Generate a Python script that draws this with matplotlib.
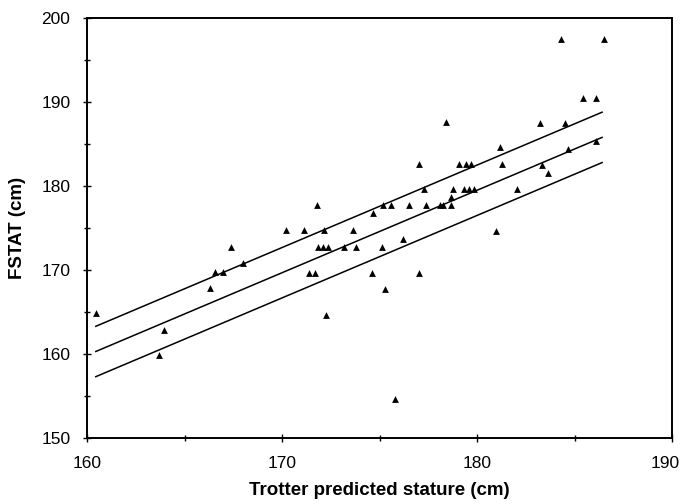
import numpy as np
import matplotlib
matplotlib.use('Agg')
import matplotlib.pyplot as plt
from matplotlib.ticker import MultipleLocator
from matplotlib.transforms import ScaledTranslation

plt.rcParams['font.family'] = ['Liberation Sans', 'DejaVu Sans']

# Datos: estatura Trotter (x) vs FSTAT (y)
trotter = [160.45, 163.96, 163.69, 166.31, 166.58, 166.99, 168.0, 167.37,
           170.22, 171.11, 171.37, 171.66, 171.81, 171.86, 172.12, 172.17,
           172.27, 172.37, 173.19, 173.61, 173.81, 174.63, 174.65, 175.14,
           175.19, 175.27, 175.6, 175.76, 176.19, 176.5, 176.99, 177.01,
           177.25, 177.38, 178.1, 178.27, 178.41, 178.65, 178.67, 178.78,
           179.04, 179.33, 179.42, 179.57, 179.69, 179.85, 180.97, 181.16,
           181.28, 182.05, 183.22, 183.33, 183.64, 184.29, 184.5, 184.67,
           185.42, 186.1, 186.1, 186.5]
fstat = [164.9, 162.9, 159.9, 167.9, 169.8, 169.8, 170.8, 172.8,
         174.8, 174.8, 169.7, 169.7, 177.8, 172.8, 172.8, 174.8,
         164.7, 172.8, 172.8, 174.8, 172.8, 169.7, 176.8, 172.7,
         177.7, 167.7, 177.7, 154.6, 173.7, 177.7, 169.6, 182.6,
         179.6, 177.7, 177.7, 177.7, 187.6, 178.7, 177.7, 179.6,
         182.6, 179.6, 182.6, 179.6, 182.6, 179.6, 174.7, 184.6,
         182.6, 179.6, 187.5, 182.5, 181.5, 197.5, 187.5, 184.4,
         190.5, 190.5, 185.4, 197.5]

# Recta de regresión (extremos) y banda de +/- 3 cm
fit_x = [160.45, 186.4]
fit_y = [160.3, 185.8]
band = 3.0

x_ticks = [160, 170, 180, 190]
y_ticks = [150, 160, 170, 180, 190, 200]

fig = plt.figure(figsize=(6.83, 5.04), dpi=100)
ax = fig.add_axes([0.1274, 0.131, 0.857, 0.833])

ax.scatter(trotter, fstat, marker='^', s=24, color='black', linewidths=0, zorder=3)

fy = np.array(fit_y)
ax.plot(fit_x, fy, color='black', lw=1.1)
ax.plot(fit_x, fy + band, color='black', lw=1.1)
ax.plot(fit_x, fy - band, color='black', lw=1.1)

ax.set_xlim(160, 190)
ax.set_ylim(150, 200)
ax.set_xticks(x_ticks)
ax.set_yticks(y_ticks)
ax.xaxis.set_minor_locator(MultipleLocator(5))
ax.yaxis.set_minor_locator(MultipleLocator(5))
ax.tick_params(which='both', direction='inout', width=1.0, labelsize=12.5)
ax.tick_params(axis='x', pad=10)
ax.tick_params(axis='y', pad=9)
ax.tick_params(which='major', length=6)
ax.tick_params(which='minor', length=5)
for s in ax.spines.values():
    s.set_linewidth(1.4)

# el rótulo 190 queda un poco a la izquierda en el original
for lbl in ax.get_xticklabels():
    if lbl.get_text() == '190':
        lbl.set_transform(lbl.get_transform() + ScaledTranslation(-7 / 100, 0, fig.dpi_scale_trans))

ax.set_xlabel('Trotter predicted stature (cm)', fontsize=13.5, fontweight='bold', labelpad=8)
ax.set_ylabel('FSTAT (cm)', fontsize=13.5, fontweight='bold', labelpad=11)

fig.savefig('out.png', dpi=100)
